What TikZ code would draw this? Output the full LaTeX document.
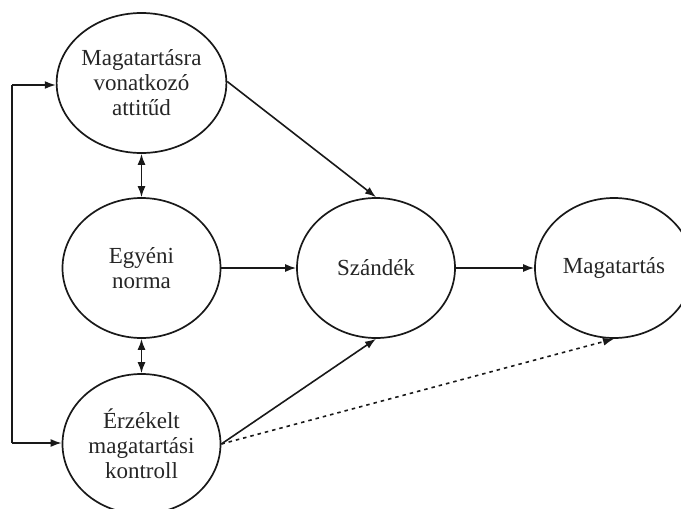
\documentclass[tikz,border=0pt]{standalone}
\usepackage{fontspec}
\setmainfont{Liberation Serif}
\usetikzlibrary{arrows.meta,shapes.geometric}
\begin{document}
\begin{tikzpicture}[x=1pt,y=-1pt,
  concept/.style={draw=black!90, line width=1.7pt, ellipse, minimum width=158pt, minimum height=140pt,
    inner sep=0pt, align=center, font=\fontsize{23}{25}\selectfont, text=black!85},
  link/.style={draw=black!90, line width=1.6pt, -{Latex[length=11pt,width=8pt]}},
  both/.style={draw=black!90, line width=1.6pt, {Latex[length=11pt,width=8pt]}-{Latex[length=11pt,width=8pt]}},
  weak/.style={link, dash pattern=on 3.5pt off 4pt}]
\useasboundingbox (0,0) rectangle (681,509);
\clip (0,0) rectangle (681,509);
\fill[white] (0,0) rectangle (681,509);

\node[concept] (att) at (141.5,83) {Magatartásra\\vonatkozó\\attitűd};
\node[concept] (norm) at (141.5,268) {Egyéni\\norma};
\node[concept] (pbc) at (141.5,444) {Érzékelt\\magatartási\\kontroll};
\node[concept] (int) at (376,268) {Szándék};
\node[concept] (beh) at (614,268) {Magatartás};

\coordinate (fbtop) at (12,85);
\coordinate (fbbot) at (12,443);

% feedback bracket on the left
\draw[draw=black!90, line width=1.6pt] (fbbot) -- (fbtop);
\draw[link] (fbtop) -- (att.west |- fbtop);
\draw[link] (fbbot) -- (pbc.west |- fbbot);

% mutual links between the predictors
\draw[both] (att.south) -- (norm.north);
\draw[both] (norm.south) -- (pbc.north);

% paths to intention and behaviour
\draw[link] (att.1) -- (int.north);
\draw[link] (norm.east) -- (int.west);
\draw[link] (pbc.east) -- (int.south);
\draw[link] (int.east) -- (beh.west);
\draw[weak] (pbc.east) -- (beh.south);
\end{tikzpicture}
\end{document}
